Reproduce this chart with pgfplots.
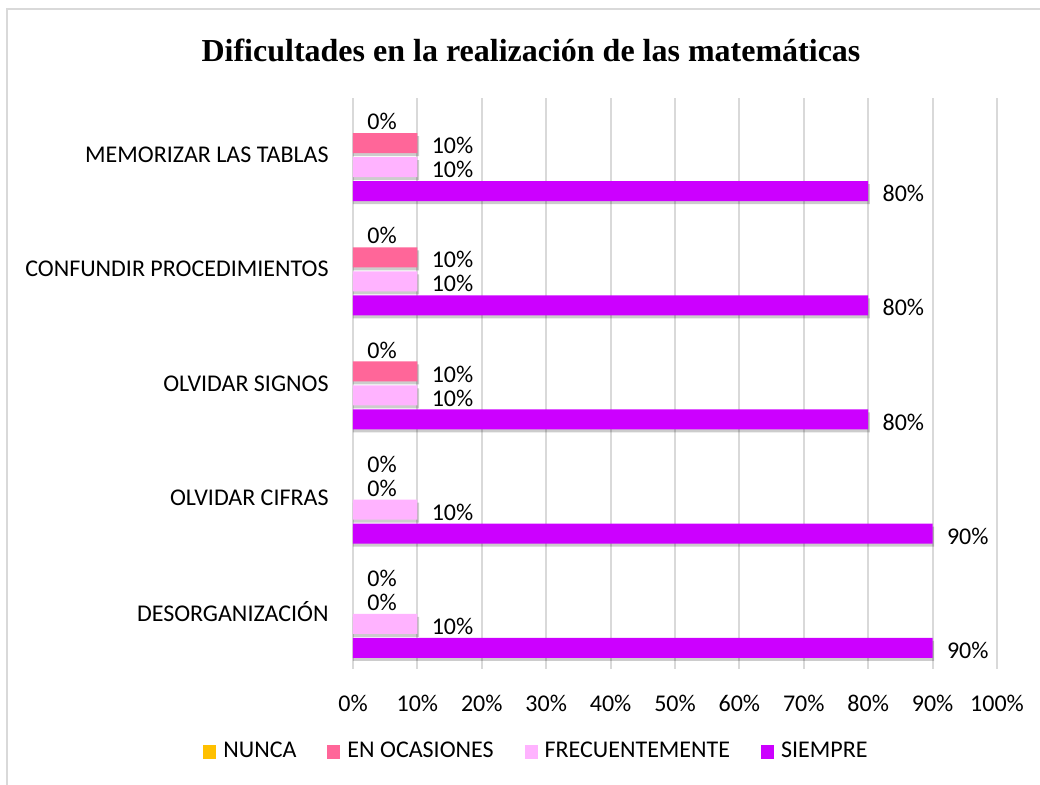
\documentclass[border=0pt]{standalone}
\usepackage{pgfplots}
\pgfplotsset{compat=1.18}
\usepackage{pgfplotstable}
\usepackage{fontspec}
\setmainfont{Carlito}
\newfontfamily\titlefont{Liberation Serif}
\definecolor{cnunca}{HTML}{FFC000}
\definecolor{cocas}{HTML}{FF6699}
\definecolor{cfrec}{HTML}{FFB3FF}
\definecolor{csiempre}{HTML}{CC00FF}
\definecolor{gridgray}{HTML}{D9D9D9}
\definecolor{framegray}{HTML}{D9D9D9}

\pgfplotstableread{
idx nunca ocas frec siempre
0 0 0 10 90
1 0 0 10 90
2 0 10 10 80
3 0 10 10 80
4 0 10 10 80
}\datatable

\begin{document}
\fontsize{12}{14.4}\selectfont
\begin{tikzpicture}
\path[use as bounding box] (0,0) rectangle (520pt,-392.5pt);
\draw[color=framegray, line width=1pt] (3.5pt,-4.5pt) rectangle (540pt,-420pt);
\node[font=\titlefont\bfseries\fontsize{16}{19}\selectfont] at (265.5pt,-25pt) {Dificultades en la realización de las matemáticas};
\begin{axis}[
  at={(176.5pt,-334.5pt)}, anchor=south west,
  scale only axis, width=322pt, height=285.5pt,
  xbar, bar width=10pt,
  xmin=0, xmax=100, ymin=-0.5, ymax=4.5,
  xtick={0,10,...,100},
  xticklabels={0\%,10\%,20\%,30\%,40\%,50\%,60\%,70\%,80\%,90\%,100\%},
  ytick={0,1,2,3,4},
  yticklabels={DESORGANIZACIÓN\hspace{5.5pt},OLVIDAR CIFRAS,OLVIDAR SIGNOS,CONFUNDIR PROCEDIMIENTOS,MEMORIZAR LAS TABLAS\hspace{5.5pt}},
  axis line style={draw=none},
  major tick length=0pt,
  xmajorgrids, major grid style={gridgray, line width=1pt},
  tick label style={font=\fontsize{12}{14.4}\selectfont, text=black},
  yticklabel style={anchor=east, inner sep=0pt, xshift=-12pt},
  xticklabel style={anchor=center, inner sep=0pt, yshift=-17pt},
  /pgf/number format/assume math mode=true,
  every node near coord/.append style={font=\fontsize{12}{14.4}\selectfont, text=black, inner sep=0pt, xshift=7pt, yshift=-1.25pt},
  lbl/.style={nodes near coords={\pgfmathprintnumber{\pgfplotspointmeta}\%}, draw=none, fill=none, forget plot},
  shd/.style={fill=black, fill opacity=0.2, draw=none, forget plot, x filter/.expression={x==0 ? nan : x+0.25}},
  nz/.style={draw=none, x filter/.expression={x==0 ? nan : x}},
  unbounded coords=discard,
  legend columns=4,
  legend style={at={(0.2865,-0.145)}, anchor=center, draw=none, fill=none, inner sep=0pt,
    font=\fontsize{12}{14.4}\selectfont,
    /tikz/every odd column/.append style={column sep=1.5pt},
    /tikz/every even column/.append style={column sep=13.5pt}},
  legend cell align=left,
  legend image code/.code={\fill[#1] (0pt,-3.5pt) rectangle (6.5pt,3.5pt);},
]
% shadows
\addplot[shd, bar shift=4.5pt] table[x=ocas, y=idx] {\datatable};
\addplot[shd, bar shift=-7.5pt] table[x=frec, y=idx] {\datatable};
\addplot[shd, bar shift=-19.5pt] table[x=siempre, y=idx] {\datatable};
% bars
\addlegendimage{fill=cnunca, draw=none}
\addlegendentry{NUNCA}
\addplot[nz, fill=cocas, bar shift=6pt] table[x=ocas, y=idx] {\datatable};
\addlegendentry{EN OCASIONES}
\addplot[nz, fill=cfrec, bar shift=-6pt] table[x=frec, y=idx] {\datatable};
\addlegendentry{FRECUENTEMENTE}
\addplot[nz, fill=csiempre, bar shift=-18pt] table[x=siempre, y=idx] {\datatable};
\addlegendentry{SIEMPRE}
% labels
\addplot[lbl, bar shift=18pt] table[x=nunca, y=idx] {\datatable};
\addplot[lbl, bar shift=6pt] table[x=ocas, y=idx] {\datatable};
\addplot[lbl, bar shift=-6pt] table[x=frec, y=idx] {\datatable};
\addplot[lbl, bar shift=-18pt] table[x=siempre, y=idx] {\datatable};
\end{axis}
\end{tikzpicture}
\end{document}
